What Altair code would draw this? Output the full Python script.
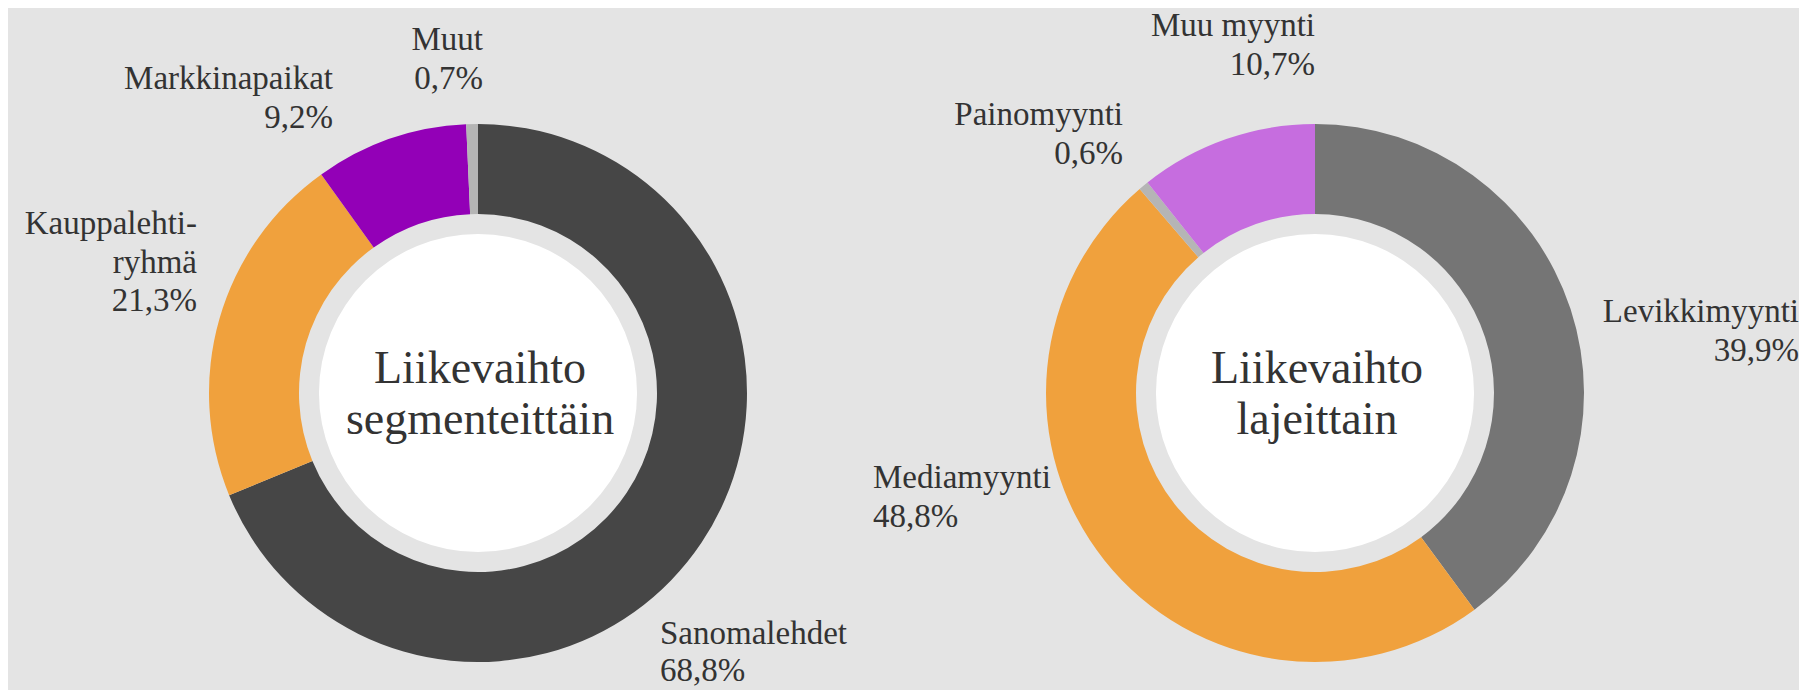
import math
import altair as alt
import pandas as pd

# ---- data ----
seg_names = ["Sanomalehdet", "Kauppalehti-ryhmä", "Markkinapaikat", "Muut"]
seg_values = [68.8, 21.3, 9.2, 0.7]
seg_colors = ["#464646", "#f0a13d", "#9300b7", "#b5b5b5"]
seg_title = "Liikevaihto\nsegmenteittäin"

laji_names = ["Levikkimyynti", "Mediamyynti", "Painomyynti", "Muu myynti"]
laji_values = [39.9, 48.8, 0.6, 10.7]
laji_colors = ["#757575", "#f0a13d", "#b5b5b5", "#c66ddf"]
laji_title = "Liikevaihto\nlajeittain"

# label line text (name split where the reference wraps)
seg_label_names = ["Sanomalehdet", "Kauppalehti-\nryhmä", "Markkinapaikat", "Muut"]
laji_label_names = ["Levikkimyynti", "Mediamyynti", "Painomyynti", "Muu myynti"]

# ---- layout (view pixels) ----
W, H = 1791, 682
BG = "#e4e4e4"
FONT = "Liberation Serif"
TXT = "#333333"
R_OUT, R_IN, R_WHITE = 269, 179, 159
centers = [(470, 385), (1307, 385)]
# label anchors: (x, y of first line, align, line height)
seg_label_pos = [(652, 626, "left", 37), (189, 216, "right", 38.5),
                 (325, 71, "right", 38.5), (475, 32, "right", 38.5)]
laji_label_pos = [(1791, 304, "right", 38.5), (865, 470, "left", 38.5),
                  (1115, 107, "right", 38.5), (1307, 18, "right", 38.5)]


def fmt(v):
    return f"{v:.1f}".replace(".", ",") + "%"


all_names = seg_names + laji_names
all_colors = seg_colors + laji_colors
color = alt.Color("name:N", scale=alt.Scale(domain=all_names, range=all_colors), legend=None)

layers = []
for names, values, labels, pos, title, (cx, cy) in [
    (seg_names, seg_values, seg_label_names, seg_label_pos, seg_title, centers[0]),
    (laji_names, laji_values, laji_label_names, laji_label_pos, laji_title, centers[1]),
]:
    df = pd.DataFrame({"name": names, "value": values, "idx": list(range(len(names)))})
    ring = alt.Chart(df).mark_arc(innerRadius=R_IN, outerRadius=R_OUT).encode(
        theta=alt.Theta("value:Q", stack=True, scale=alt.Scale(domain=[0, 100])),
        color=color,
        order=alt.Order("idx:Q"),
        x=alt.value(cx),
        y=alt.value(cy),
    )
    white = alt.Chart(pd.DataFrame({"a": [0]})).mark_arc(
        innerRadius=0, outerRadius=R_WHITE, theta=0, theta2=2 * math.pi, color="white"
    ).encode(x=alt.value(cx), y=alt.value(cy))
    centre = alt.Chart(pd.DataFrame({"t": [title]})).mark_text(
        font=FONT, fontSize=46, color=TXT, lineBreak="\n", lineHeight=51,
        align="center", baseline="middle",
    ).encode(text="t:N", x=alt.value(cx + 2), y=alt.value(cy - 24))
    layers += [ring, white, centre]
    for lab, v, (lx, ly, al, lh) in zip(labels, values, pos):
        t = alt.Chart(pd.DataFrame({"t": [lab + "\n" + fmt(v)]})).mark_text(
            font=FONT, fontSize=33, color=TXT, lineBreak="\n", lineHeight=lh,
            align=al, baseline="middle",
        ).encode(text="t:N", x=alt.value(lx), y=alt.value(ly))
        layers.append(t)

chart = alt.layer(*layers).properties(
    width=W, height=H, background=BG, padding=0,
    autosize=alt.AutoSizeParams(type="none"),
).configure_view(stroke=None)

chart.save("out.html", embed_options={"renderer": "svg", "actions": False})
